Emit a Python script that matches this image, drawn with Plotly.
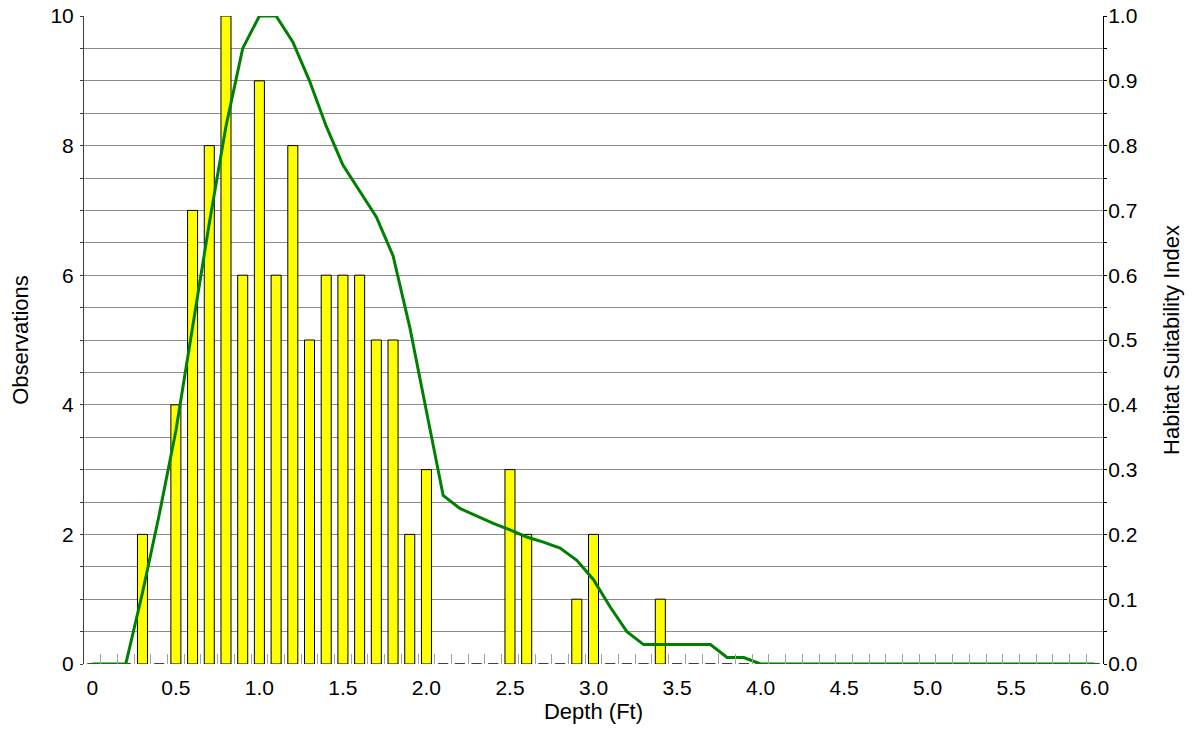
import plotly.graph_objects as go

depth = [0.0, 0.1, 0.2, 0.3, 0.4, 0.5, 0.6, 0.7, 0.8, 0.9,
         1.0, 1.1, 1.2, 1.3, 1.4, 1.5, 1.6, 1.7, 1.8, 1.9,
         2.0, 2.1, 2.2, 2.3, 2.4, 2.5, 2.6, 2.7, 2.8, 2.9,
         3.0, 3.1, 3.2, 3.3, 3.4, 3.5, 3.6, 3.7, 3.8, 3.9,
         4.0, 4.1, 4.2, 4.3, 4.4, 4.5, 4.6, 4.7, 4.8, 4.9,
         5.0, 5.1, 5.2, 5.3, 5.4, 5.5, 5.6, 5.7, 5.8, 5.9, 6.0]

observations = [0, 0, 0, 2, 0, 4, 7, 8, 10, 6,
                9, 6, 8, 5, 6, 6, 6, 5, 5, 2,
                3, 0, 0, 0, 0, 3, 2, 0, 0, 1,
                2, 0, 0, 0, 1, 0, 0, 0, 0, 0,
                0, 0, 0, 0, 0, 0, 0, 0, 0, 0,
                0, 0, 0, 0, 0, 0, 0, 0, 0, 0, 0]

hsi = [0.0, 0.0, 0.0, 0.11, 0.23, 0.36, 0.52, 0.68, 0.83, 0.95,
       1.0, 1.0, 0.96, 0.9, 0.83, 0.77, 0.73, 0.69, 0.63, 0.52,
       0.39, 0.26, 0.24, 0.228, 0.217, 0.207, 0.196, 0.188, 0.179, 0.16,
       0.13, 0.088, 0.05, 0.03, 0.03, 0.03, 0.03, 0.03, 0.01, 0.01,
       0.0, 0.0, 0.0, 0.0, 0.0, 0.0, 0.0, 0.0, 0.0, 0.0,
       0.0, 0.0, 0.0, 0.0, 0.0, 0.0, 0.0, 0.0, 0.0, 0.0, 0.0]

x_tick_vals = [0, 0.5, 1.0, 1.5, 2.0, 2.5, 3.0, 3.5, 4.0, 4.5, 5.0, 5.5, 6.0]
x_tick_text = ["0", "0.5", "1.0", "1.5", "2.0", "2.5", "3.0", "3.5", "4.0", "4.5", "5.0", "5.5", "6.0"]
x_minor_vals = [round(0.05 + 0.1 * i, 2) for i in range(60)]

y_tick_vals = [i * 0.5 for i in range(21)]
y_tick_text = [str(int(v)) if v % 2 == 0 else "" for v in y_tick_vals]

y2_tick_vals = [round(i * 0.05, 2) for i in range(21)]
y2_tick_text = [f"{v:.1f}" if i % 2 == 0 else "" for i, v in enumerate(y2_tick_vals)]

FONT = "Liberation Sans, Arial, sans-serif"
TICK_SIZE = 21
TITLE_SIZE = 22

fig = go.Figure()
fig.add_trace(go.Bar(
    x=depth, y=observations, width=0.06,
    marker=dict(color="#FFFF00", line=dict(color="#000000", width=1)),
    showlegend=False,
))
fig.add_trace(go.Scatter(
    x=depth, y=hsi, yaxis="y2", mode="lines",
    line=dict(color="#008000", width=3),
    showlegend=False,
))

fig.update_layout(
    width=1198, height=732,
    margin=dict(l=84, r=95, t=16, b=68, autoexpand=False),
    plot_bgcolor="white", paper_bgcolor="white",
    font=dict(family=FONT, size=TICK_SIZE, color="black"),
    xaxis=dict(
        range=[-0.05, 6.05], tickmode="array", tickvals=x_tick_vals, ticktext=x_tick_text,
        ticks="", showgrid=False, zeroline=False, showline=False, automargin=False,
        tickfont=dict(size=TICK_SIZE), ticklabelstandoff=9, ticklabeloverflow="allow",
        title=dict(text="Depth (Ft)", font=dict(size=TITLE_SIZE), standoff=2),
        minor=dict(tickmode="array", tickvals=x_minor_vals, ticks="inside", ticklen=10,
                   tickcolor="#a0a0a0", tickwidth=1, showgrid=False),
    ),
    yaxis=dict(
        range=[0, 10], tickmode="array", tickvals=y_tick_vals, ticktext=y_tick_text,
        ticks="outside", ticklen=3, tickcolor="#404040",
        showgrid=True, gridcolor="#8c8c8c", gridwidth=1, zeroline=False,
        showline=True, linecolor="#404040", linewidth=1, automargin=False,
        tickfont=dict(size=TICK_SIZE), ticklabelstandoff=2, ticklabeloverflow="allow",
        title=dict(text="Observations", font=dict(size=TITLE_SIZE), standoff=15),
    ),
    yaxis2=dict(
        range=[0, 1], overlaying="y", side="right",
        tickmode="array", tickvals=y2_tick_vals, ticktext=y2_tick_text,
        ticks="outside", ticklen=3, tickcolor="#000000",
        showgrid=False, zeroline=False, automargin=False,
        showline=True, linecolor="#000000", linewidth=1,
        tickfont=dict(size=TICK_SIZE), ticklabelstandoff=-3, ticklabeloverflow="allow",
        title=dict(text="Habitat Suitability Index", font=dict(size=TITLE_SIZE), standoff=26),
    ),
)

# remove the page's default body margin so the figure sits at the window's top-left corner
fig.write_html("out.html",
               config={"displayModeBar": False},
               post_script="document.body.style.margin='0';document.body.style.overflow='hidden';")
